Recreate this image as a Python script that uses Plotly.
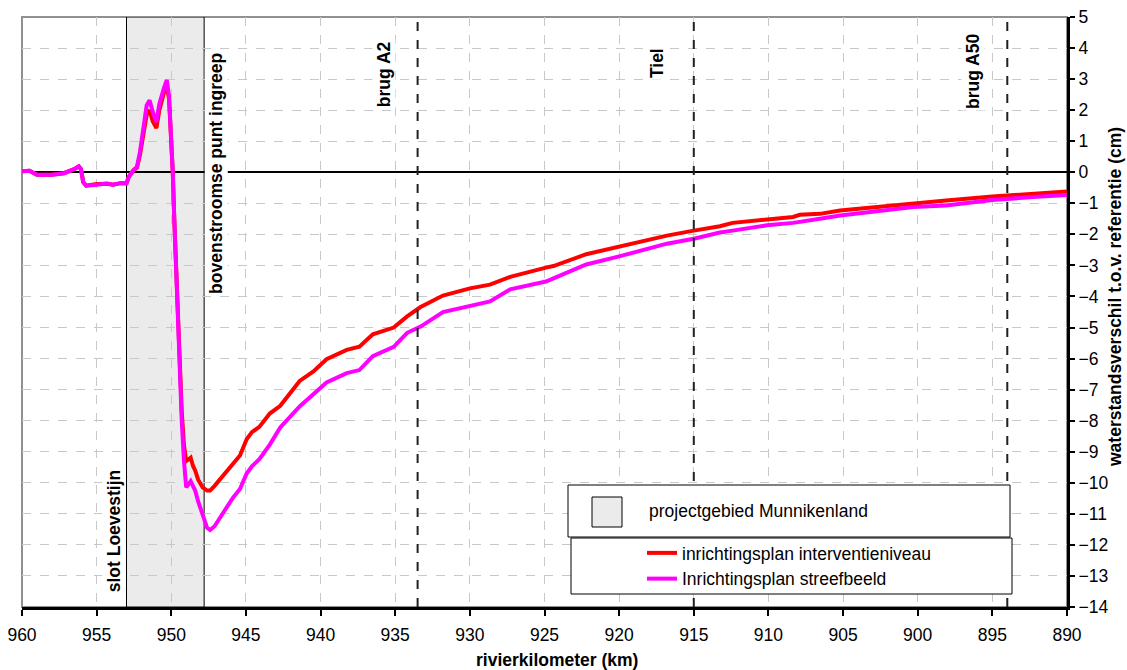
import plotly.graph_objects as go

# rivierkilometer and waterstandsverschil (cm)
km = [960.0, 959.5, 959.0, 958.0, 957.2, 956.5, 956.2, 956.05, 955.9, 955.7,
      955.0, 954.3, 953.9, 953.4, 953.0, 952.85, 952.55, 952.3, 952.1, 951.9,
      951.65, 951.45, 951.25, 951.0, 950.8, 950.5, 950.3, 950.15, 950.0, 949.9,
      949.8, 949.65, 949.5, 949.3, 949.15, 949.0, 948.85, 948.7, 948.55, 948.4,
      948.2, 947.9, 947.6, 947.4, 947.1, 946.5, 945.9, 945.4, 944.95, 944.6,
      944.1, 943.4, 942.7, 941.4, 940.5, 939.6, 938.25, 937.4, 936.5, 935.1,
      934.2, 933.3, 931.8, 930.0, 928.65, 927.3, 924.9, 924.4, 922.2, 920.0,
      918.2, 916.8, 915.0, 913.25, 912.4, 910.1, 908.35, 907.9, 906.55, 905.2,
      903.4, 900.3, 898.1, 895.0, 892.3, 890.0]

interventie = [0.03, 0.05, -0.08, -0.08, -0.03, 0.10, 0.19, 0.10, -0.32, -0.43,
               -0.38, -0.37, -0.40, -0.35, -0.35, -0.15, 0.05, 0.15, 0.55, 1.20,
               1.85, 2.00, 1.65, 1.42, 2.00, 2.55, 2.80, 2.35, 1.20, 0.00,
               -1.50, -3.50, -5.60, -7.70, -8.80, -9.30, -9.25, -9.19, -9.45, -9.60,
               -9.90, -10.15, -10.25, -10.25, -10.10, -9.75, -9.38, -9.12, -8.60, -8.37,
               -8.20, -7.77, -7.52, -6.72, -6.42, -6.02, -5.72, -5.62, -5.22, -5.00,
               -4.64, -4.34, -3.97, -3.74, -3.62, -3.37, -3.07, -3.02, -2.64, -2.40,
               -2.20, -2.04, -1.88, -1.74, -1.63, -1.53, -1.44, -1.37, -1.34, -1.23,
               -1.15, -0.98, -0.91, -0.78, -0.69, -0.62]

streefbeeld = [0.03, 0.05, -0.08, -0.08, -0.03, 0.10, 0.19, 0.10, -0.32, -0.43,
               -0.40, -0.36, -0.40, -0.35, -0.35, -0.15, 0.06, 0.17, 0.65, 1.40,
               2.15, 2.32, 1.95, 1.62, 2.20, 2.70, 2.97, 2.45, 1.20, 0.00,
               -1.50, -3.60, -5.80, -8.00, -9.30, -10.15, -10.05, -9.95, -10.10, -10.25,
               -10.60, -11.00, -11.45, -11.52, -11.40, -10.95, -10.50, -10.20, -9.70, -9.47,
               -9.24, -8.77, -8.22, -7.54, -7.17, -6.77, -6.47, -6.37, -5.92, -5.62,
               -5.17, -4.97, -4.50, -4.29, -4.16, -3.77, -3.52, -3.42, -2.97, -2.71,
               -2.49, -2.30, -2.14, -1.94, -1.88, -1.71, -1.63, -1.59, -1.50, -1.39,
               -1.28, -1.12, -1.07, -0.89, -0.80, -0.73]

project_km = [953.0, 947.8]
bridge_km = [933.5, 915.0, 894.0]
bridge_labels = ["brug A2", "Tiel", "brug A50"]

FONT = "Liberation Sans, Arial, sans-serif"
FS = 17.5


def px(x):
    # page pixel -> paper x
    return (x - 22) / 1045


def py(y):
    # page pixel -> paper y
    return (607 - y) / 590


fig = go.Figure()
fig.add_trace(go.Scatter(x=km, y=interventie, mode="lines",
                         name="inrichtingsplan interventieniveau",
                         line=dict(color="#ff0000", width=4)))
fig.add_trace(go.Scatter(x=km, y=streefbeeld, mode="lines",
                         name="Inrichtingsplan streefbeeld",
                         line=dict(color="#ff00ff", width=4)))

shapes = []
# plot border (top/left grey)
shapes.append(dict(type="rect", xref="paper", yref="paper", x0=0, x1=1, y0=0, y1=1,
                   line=dict(color="#909090", width=2), layer="below"))
# projectgebied
shapes.append(dict(type="rect", xref="x", yref="y", x0=project_km[0], x1=project_km[1],
                   y0=-14, y1=5, fillcolor="#ebebeb", line=dict(color="black", width=1),
                   layer="below"))
for b in bridge_km:
    shapes.append(dict(type="line", xref="x", yref="y", x0=b, x1=b, y0=-14, y1=5,
                       line=dict(color="#202020", width=2, dash="dash")))

# legend boxes
shapes.append(dict(type="rect", xref="paper", yref="paper",
                   x0=px(568), x1=px(1010), y0=py(537), y1=py(485),
                   fillcolor="white", line=dict(color="black", width=1), layer="above"))
shapes.append(dict(type="rect", xref="paper", yref="paper",
                   x0=px(592), x1=px(622), y0=py(527), y1=py(497),
                   fillcolor="#ebebeb", line=dict(color="black", width=1), layer="above"))
shapes.append(dict(type="rect", xref="paper", yref="paper",
                   x0=px(571), x1=px(1012), y0=py(594), y1=py(538),
                   fillcolor="white", line=dict(color="black", width=1), layer="above"))

label_font = dict(family=FONT, size=FS, color="black")
annotations = []
annotations.append(dict(x=px(647), y=py(511), xref="paper", yref="paper",
                        text="projectgebied Munnikenland", showarrow=False,
                        xanchor="left", yanchor="middle", font=label_font))
annotations.append(dict(x=953.84, y=-11.53, text="<b>slot Loevestijn</b>", textangle=-90,
                        showarrow=False, bgcolor="white", font=label_font,
                        xanchor="center", yanchor="middle"))
annotations.append(dict(x=947.0, y=-0.05, text="<b>bovenstroomse punt ingreep</b>",
                        textangle=-90, showarrow=False, bgcolor="white", font=label_font,
                        xanchor="center", yanchor="middle"))
label_pos = [(935.75, 3.16), (917.5, 3.53), (896.3, 3.26)]
for (lx, ly), lab in zip(label_pos, bridge_labels):
    annotations.append(dict(x=lx, y=ly, text="<b>" + lab + "</b>", textangle=-90,
                            showarrow=False, bgcolor="white", font=label_font,
                            xanchor="center", yanchor="middle"))
annotations.append(dict(x=px(1115), y=py(297), xref="paper", yref="paper",
                        text="<b>waterstandsverschil t.o.v. referentie (cm)</b>",
                        textangle=-90, showarrow=False, font=label_font,
                        xanchor="center", yanchor="middle"))
annotations.append(dict(x=px(557), y=py(660), xref="paper", yref="paper",
                        text="<b>rivierkilometer (km)</b>", showarrow=False,
                        font=label_font, xanchor="center", yanchor="middle"))

fig.update_layout(
    width=1127, height=670,
    margin=dict(l=22, r=60, t=17, b=63),
    plot_bgcolor="white", paper_bgcolor="white",
    font=dict(family=FONT, size=FS, color="black"),
    shapes=shapes, annotations=annotations,
    showlegend=True,
    legend=dict(x=px(642), y=py(535), xanchor="left", yanchor="top",
                bgcolor="rgba(0,0,0,0)", borderwidth=0, font=dict(family=FONT, size=FS),
                tracegroupgap=0),
    xaxis=dict(range=[960, 890], dtick=5, tick0=890, showgrid=True, automargin=False,
               gridcolor="#c8c8c8", griddash="dash", gridwidth=1,
               showline=True, linecolor="black", linewidth=3,
               ticks="outside", ticklen=6, tickwidth=2, tickcolor="black",
               ticklabelstandoff=4, zeroline=False),
    yaxis=dict(range=[-14, 5], dtick=1, side="right", showgrid=True, automargin=False,
               gridcolor="#c8c8c8", griddash="dash", gridwidth=1,
               showline=True, linecolor="black", linewidth=3,
               ticks="outside", ticklen=5, tickwidth=2, tickcolor="black",
               zeroline=True, zerolinecolor="black", zerolinewidth=2),
)

# drop the default 8px page margin so the figure fills the window exactly
fig.write_html("out.html", config={"displayModeBar": False},
               post_script="document.body.style.margin='0px';")
